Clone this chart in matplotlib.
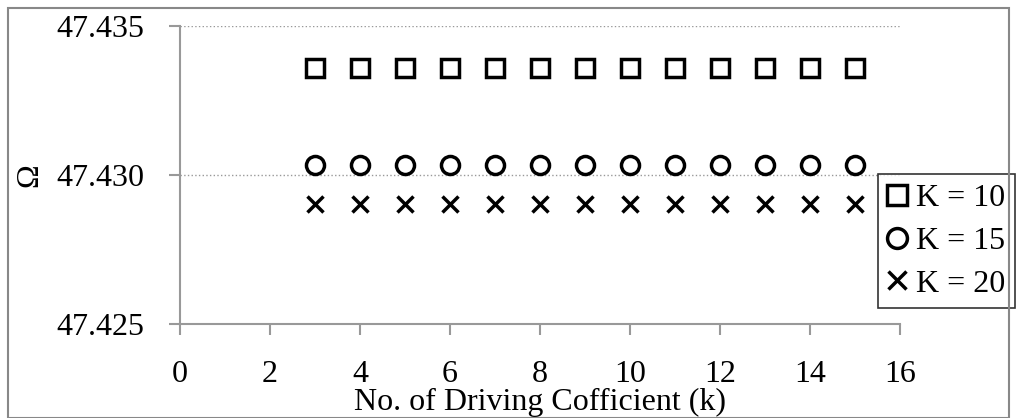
import matplotlib.pyplot as plt
from matplotlib.patches import Rectangle

plt.rcParams['font.family'] = ['Liberation Serif', 'DejaVu Serif']

k = [3, 4, 5, 6, 7, 8, 9, 10, 11, 12, 13, 14, 15]
omega_k10 = [47.4336] * 13
omega_k15 = [47.43034] * 13
omega_k20 = [47.42903] * 13

fig = plt.figure(figsize=(10.17, 4.18), dpi=100)
ax = fig.add_axes([0.177, 0.2249, 0.708, 0.7129])

ax.plot(k, omega_k10, ls='none', marker='s', ms=13, mfc='none', mec='black', mew=2.5, label='K = 10')
ax.plot(k, omega_k15, ls='none', marker='o', ms=13, mfc='none', mec='black', mew=2.5, label='K = 15')
ax.plot(k, omega_k20, ls='none', marker='x', ms=12, mec='black', mew=2.5, label='K = 20')

ax.set_xlim(0, 16)
ax.set_ylim(47.425, 47.435)
ax.set_xticks(range(0, 17, 2))
ax.set_yticks([47.425, 47.430, 47.435])
ax.set_yticklabels(['47.425', '47.430', '47.435'])
ax.grid(axis='y', color='#999999', ls=':', lw=1)
for s in ['top', 'right']:
    ax.spines[s].set_visible(False)
for s in ['left', 'bottom']:
    ax.spines[s].set_color('#999999')
    ax.spines[s].set_linewidth(1.5)
ax.tick_params(colors='#999999', labelcolor='black', labelsize=23, length=8, width=1.5)
ax.tick_params(axis='x', pad=18)
ax.tick_params(axis='y', pad=17.5)
ax.set_xlabel('No. of Driving Cofficient (k)', fontsize=23)
ax.xaxis.set_label_coords(0.5, -0.213)
ax.set_ylabel('Ω', fontsize=23)
ax.yaxis.set_label_coords(-0.188, 0.5)

leg = ax.legend(loc='upper left', bbox_to_anchor=(0.9694, 0.503), fontsize=23, frameon=True,
                fancybox=False, edgecolor='black', handlelength=0.6, handletextpad=0.3,
                borderpad=0.3, labelspacing=0.42, borderaxespad=0, markerscale=1.1)
leg.get_frame().set_linewidth(1.2)

fig.patches.append(Rectangle((8 / 1017, 0), 1 - 16 / 1017, 1 - 8 / 418, transform=fig.transFigure,
                             fill=False, edgecolor='#888888', lw=1.5))

fig.savefig('out.png', dpi=100)
